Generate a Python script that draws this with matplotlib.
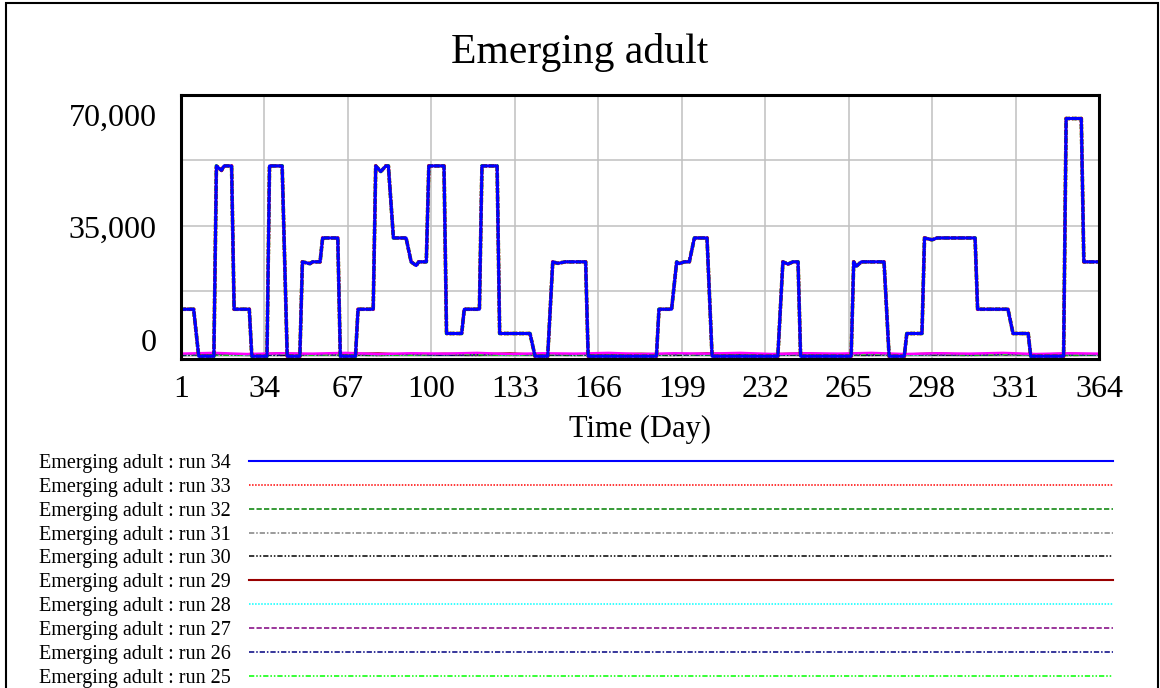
import matplotlib
matplotlib.use('Agg')
import matplotlib.pyplot as plt
from matplotlib.patches import Rectangle
from matplotlib.transforms import blended_transform_factory

plt.rcParams['font.family'] = ['Liberation Serif', 'DejaVu Serif']
plt.rcParams['lines.scale_dashes'] = False

# run 34 (runs 33 and 32 follow the same path)
days = [1, 6, 8, 14, 15, 17, 18, 21, 22, 28, 29, 35, 36, 41, 43, 48, 49, 52, 53,
        56, 57, 63, 64, 70, 71, 77, 78, 80, 82, 83, 85, 90, 92, 94, 95, 98, 99,
        105, 106, 112, 113, 119, 120, 126, 127, 139, 141, 146, 148, 150, 153,
        161, 162, 189, 190, 195, 197, 198, 200, 202, 204, 209, 211, 237, 239,
        241, 243, 245, 246, 266, 267, 268, 270, 279, 281, 287, 288, 294, 295,
        298, 300, 315, 316, 328, 330, 336, 337, 350, 351, 357, 358, 364]
run34 = [12600, 12600, 0, 0, 51000, 49800, 51000, 51000, 12600, 12600, 0, 0,
         51000, 51000, 0, 0, 25300, 24800, 25300, 25300, 31700, 31700, 0, 0,
         12600, 12600, 51000, 49500, 51000, 51000, 31700, 31700, 25300, 24300,
         25300, 25300, 51000, 51000, 6100, 6100, 12600, 12600, 51000, 51000,
         6100, 6100, 0, 0, 25300, 24900, 25300, 25300, 0, 0, 12600, 12600,
         25300, 24800, 25300, 25300, 31700, 31700, 0, 0, 25300, 24700, 25300,
         25300, 0, 0, 25300, 24100, 25300, 25300, 0, 0, 6100, 6100, 31700,
         31200, 31700, 31700, 12600, 12600, 6100, 6100, 0, 0, 63700, 63700,
         25300, 25300]
run33 = list(run34)
run32 = list(run34)

# runs that stay close to zero
low_days = [1, 14, 27, 40, 53, 66, 79, 92, 105, 118, 131, 144, 157, 170, 183,
            196, 209, 222, 235, 248, 261, 274, 287, 300, 313, 326, 339, 352, 364]
run31 = [300, 500, 200, 400, 300, 600, 200, 400, 300, 500, 200, 400, 300, 500,
         200, 400, 300, 500, 200, 400, 300, 500, 200, 400, 300, 500, 200, 400, 300]
run30 = [200, 300, 400, 200, 500, 300, 200, 400, 300, 200, 500, 300, 200, 400,
         300, 200, 500, 300, 200, 400, 300, 200, 500, 300, 200, 400, 300, 200, 300]
run29 = [600, 800, 500, 900, 600, 700, 900, 500, 800, 600, 900, 500, 700,
         600, 800, 500, 900, 600, 700, 900, 500, 800, 600, 900, 500, 700,
         600, 800, 600]
run28 = [400, 600, 300, 500, 400, 700, 300, 500, 400, 600, 300, 500, 400, 600,
         300, 500, 400, 600, 300, 500, 400, 600, 300, 500, 400, 600, 300, 500, 400]
run27 = [600, 400, 700, 500, 300, 600, 400, 700, 500, 300, 600, 400, 700, 500,
         300, 600, 400, 700, 500, 300, 600, 400, 700, 500, 300, 600, 400, 700, 500]
run26 = [300, 400, 500, 300, 400, 300, 500, 400, 300, 400, 500, 300, 400, 300,
         500, 400, 300, 400, 500, 300, 400, 300, 500, 400, 300, 400, 500, 300, 400]
run25 = [500, 300, 400, 600, 300, 500, 400, 300, 600, 400, 300, 500, 400, 600,
         300, 500, 400, 300, 600, 400, 300, 500, 400, 600, 300, 500, 400, 300, 500]
run24 = [700, 900, 600, 800, 700, 900, 600, 800, 700, 900, 600, 800, 700, 900,
         600, 800, 700, 900, 600, 800, 700, 900, 600, 800, 700, 900, 600, 800, 700]

x_ticks = [1, 34, 67, 100, 133, 166, 199, 232, 265, 298, 331, 364]
y_grid = [0, 17500, 35000, 52500, 70000]
y_label_values = [0, 35000, 70000]
y_label_texts = ['0', '35,000', '70,000']

run_names = ['Emerging adult : run 34', 'Emerging adult : run 33',
             'Emerging adult : run 32', 'Emerging adult : run 31',
             'Emerging adult : run 30', 'Emerging adult : run 29',
             'Emerging adult : run 28', 'Emerging adult : run 27',
             'Emerging adult : run 26', 'Emerging adult : run 25']

dot = (0, (1.1, 1.1))
dash = (0, (3.8, 1.6))
dashdot = (0, (3.8, 1.4, 1.1, 1.4))
dashdotdot = (0, (3.8, 1.4, 1.1, 1.4, 1.1, 1.4))

fig = plt.figure(figsize=(11.6, 6.88), dpi=100)
ax = fig.add_axes([181 / 1160, 1 - 358.5 / 688, 918 / 1160, 263.5 / 688])

# low runs first, then the big ones on top
l31, = ax.plot(low_days, run31, color='#808080', lw=1.0, ls=dashdot)
l30, = ax.plot(low_days, run30, color='black', lw=1.0, ls=dashdotdot)
l29, = ax.plot(low_days, run29, color='#990000', lw=1.0)
l28, = ax.plot(low_days, run28, color='cyan', lw=1.0, ls=dot)
l27, = ax.plot(low_days, run27, color='#800080', lw=1.0, ls=dash)
l26, = ax.plot(low_days, run26, color='#000080', lw=1.0, ls=dashdot)
l25, = ax.plot(low_days, run25, color='#00ff00', lw=1.0, ls=dashdotdot)
ax.plot(low_days, run24, color='#ff00ff', lw=1.8)

l32, = ax.plot(days, run32, color='#008000', lw=2.6, ls=dash)
l33, = ax.plot(days, run33, color='red', lw=2.6, ls=dot)
l34, = ax.plot(days, run34, color='#0000ff', lw=2.2)

ax.set_xlim(1, 364)
ax.set_ylim(-600, 70000)
ax.set_xticks(x_ticks)
ax.set_xticklabels([str(t) for t in x_ticks])
ax.set_yticks(y_grid)
ax.grid(True, color='#c0c0c0', lw=1.1)
ax.set_axisbelow(True)
ax.tick_params(length=0, labelleft=False, labelsize=23, pad=11.6)
for s in ax.spines.values():
    s.set_linewidth(2.2)
    s.set_color('black')

# vensim puts the end labels inside the plot range
trans = blended_transform_factory(ax.transAxes, ax.transData)
offsets = [3.8, -9.0, -21.9]
for v, txt, off in zip(y_label_values, y_label_texts, offsets):
    ax.annotate(txt, xy=(0, v), xycoords=trans, xytext=(-17.5, off),
                textcoords='offset points', ha='right', va='baseline', fontsize=23)

ax.set_xlabel('Time (Day)', fontsize=22, labelpad=8.3)

fig.text(0.5, 1 - 62.7 / 688, 'Emerging adult', ha='center', va='baseline', fontsize=30)

handles = [l34, l33, l32, l31, l30, l29, l28, l27, l26, l25]
leg = fig.legend(handles, run_names, loc='upper left',
                 bbox_to_anchor=(39 / 1160, 1 - 454 / 688), borderaxespad=0,
                 borderpad=0, frameon=False, markerfirst=False, fontsize=14.5,
                 handlelength=42.9, handletextpad=0.9, labelspacing=0.235)
for ln in leg.get_lines():
    ln.set_linewidth(1.5 if ln.get_linestyle() == '-' else 1.1)

# frame round the whole picture
fig.patches.append(Rectangle((5.5 / 1160, -0.05), (1158 - 5.5) / 1160, 1.05 - 2.5 / 688,
                             transform=fig.transFigure, fill=False, lw=1.5,
                             edgecolor='black', clip_on=False))

fig.savefig('out.png', dpi=100)
